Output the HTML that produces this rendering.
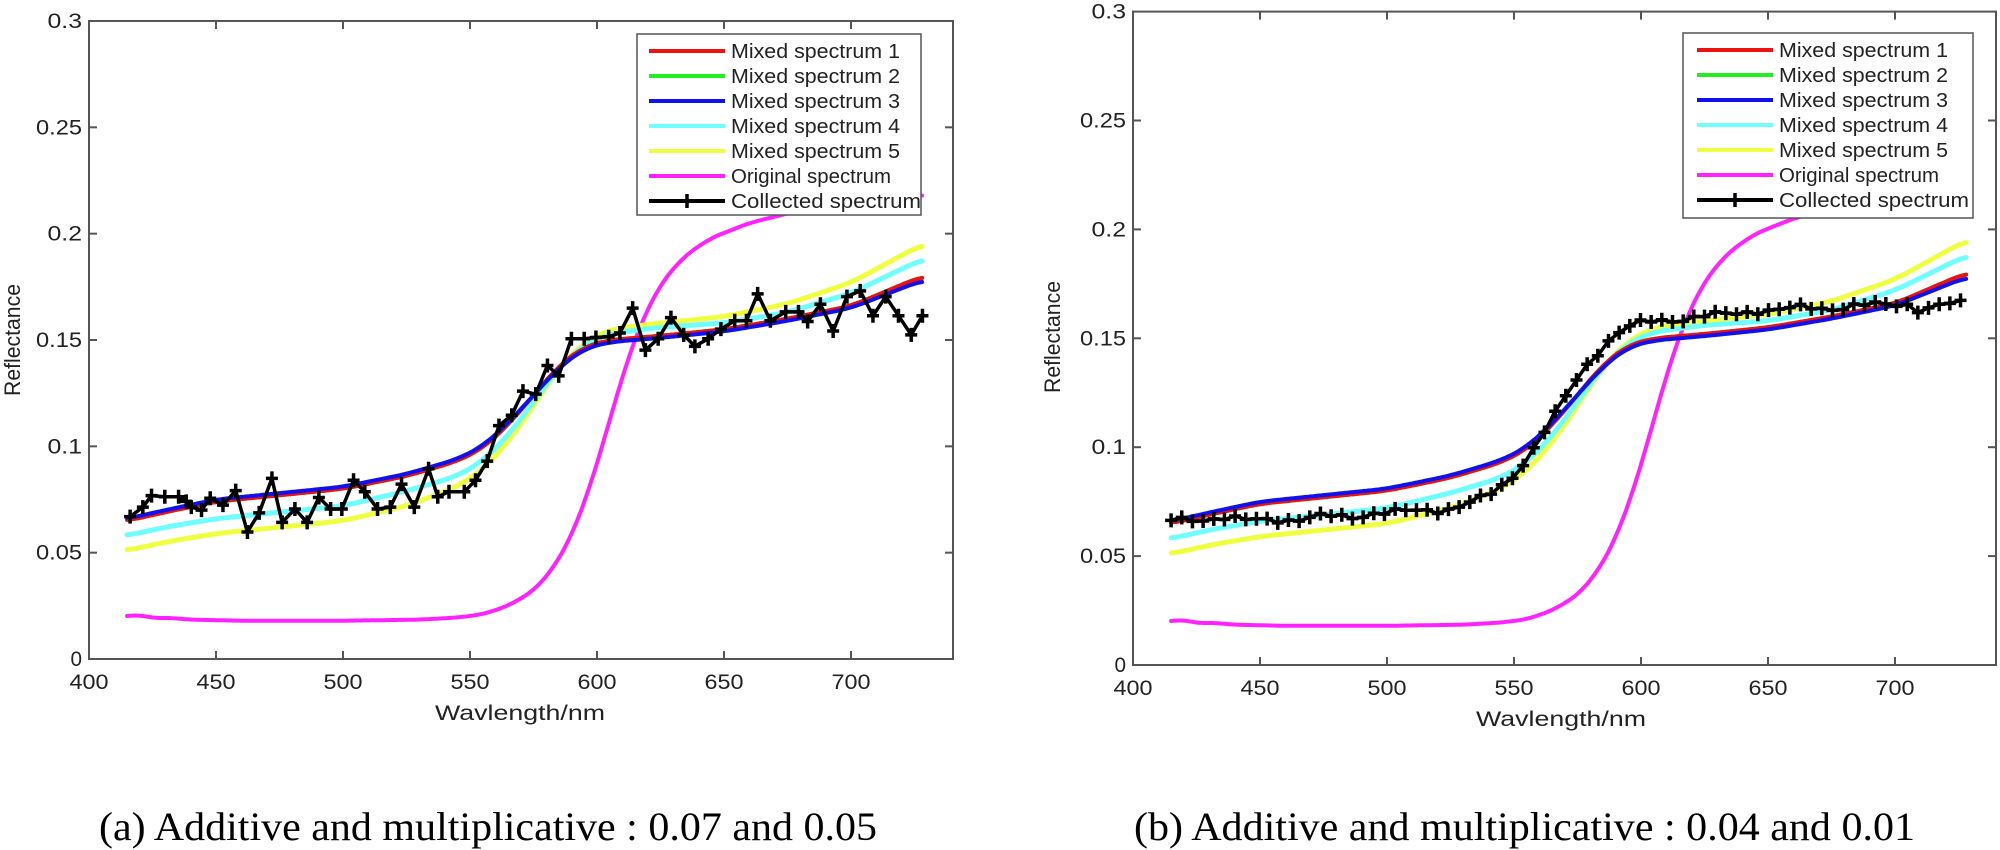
<!DOCTYPE html>
<html><head><meta charset="utf-8"><style>
html,body{margin:0;padding:0;background:#fff;width:2000px;height:850px;overflow:hidden}
svg{display:block}
text{font-family:"Liberation Sans",Arial,sans-serif;fill:#222}
.cap{font-family:"Liberation Serif","Times New Roman",serif;fill:#000}
</style></head><body>
<svg id="s" width="2000" height="850" viewBox="0 0 2000 850" xmlns="http://www.w3.org/2000/svg">
<text class="cap" x="99" y="840" font-size="40" textLength="778" lengthAdjust="spacingAndGlyphs">(a)  Additive and multiplicative : 0.07 and 0.05</text>
<text class="cap" x="1134" y="840" font-size="40" textLength="781" lengthAdjust="spacingAndGlyphs">(b)  Additive and multiplicative : 0.04 and 0.01</text>
</svg>
<script>
var S=document.getElementById('s'),NS='http://www.w3.org/2000/svg';
function el(t,a,txt){var e=document.createElementNS(NS,t);for(var k in a)e.setAttribute(k,a[k]);if(txt!=null)e.textContent=txt;S.appendChild(e);return e;}
function lin(pts,x){if(x<=pts[0][0])return pts[0][1];for(var i=0;i<pts.length-1;i++){if(x<=pts[i+1][0]){var a=pts[i],b=pts[i+1],t=(x-a[0])/(b[0]-a[0]);return a[1]+(b[1]-a[1])*t;}}return pts[pts.length-1][1];}
function smooth(pts,x,h){var s=0,n=0;for(var d=-h;d<=h;d+=0.5){var xx=Math.min(728,Math.max(415,x+d));s+=lin(pts,xx);n++;}return s/n;}
var red=[[415,.065],[430,.069],[450,.074],[475,.077],[500,.080],[525,.086],[545,.093],[555,.099],[565,.110],[575,.124],[585,.138],[595,.147],[605,.150],[625,.152],[650,.155],[675,.160],[700,.166],[728,.180]];
var blue=[[415,.066],[430,.070],[450,.075],[475,.078],[500,.081],[525,.087],[545,.094],[555,.100],[565,.111],[575,.124],[585,.137],[595,.146],[605,.149],[625,.151],[650,.154],[675,.159],[700,.165],[728,.178]];
var cyan=[[415,.058],[430,.062],[450,.066],[475,.069],[500,.072],[525,.079],[545,.086],[555,.093],[565,.105],[575,.121],[585,.137],[595,.148],[605,.153],[625,.156],[650,.158],[675,.163],[700,.172],[728,.188]];
var yel=[[415,.051],[430,.055],[450,.059],[475,.062],[500,.065],[525,.072],[545,.081],[555,.089],[565,.102],[575,.119],[585,.137],[595,.149],[605,.155],[625,.158],[650,.161],[675,.167],[700,.177],[728,.195]];
var mag=[[415,.020],[420,.021],[425,.019],[430,.0195],[440,.0185],[460,.018],[500,.018],[530,.0185],[545,.0195],[555,.021],[565,.025],[575,.032],[583,.043],[590,.058],[597,.080],[604,.108],[611,.137],[618,.160],[626,.178],[635,.190],[645,.198],[660,.205],[680,.211],[700,.215],[728,.218]];
var colR=[[415,.066],[425,.067],[435,.068],[445,.066],[455,.067],[465,.067],[475,.068],[485,.068],[495,.070],[505,.070],[515,.071],[525,.072],[535,.075],[542,.079],[548,.085],[553,.092],[558,.100],[563,.109],[568,.118],[573,.128],[578,.137],[583,.144],[588,.150],[593,.154],[598,.156],[605,.158],[615,.159],[625,.160],[635,.161],[645,.163],[655,.163],[665,.164],[675,.164],[685,.165],[695,.165],[705,.166],[710,.163],[718,.165],[728,.166]];
var rawL=[[255,1350],[280,1325],[297,1295],[323,1298],[350,1298],[365,1310],[375,1325],[395,1333],[412,1302],[437,1320],[462,1282],[485,1390],[508,1340],[533,1250],[553,1365],[578,1330],[602,1365],[625,1300],[648,1330],[670,1330],[693,1255],[715,1285],[740,1330],[765,1325],[787,1265],[812,1325],[840,1225],[858,1298],[880,1285],[910,1285],[932,1255],[955,1205],[978,1112],[1003,1085],[1025,1022],[1050,1030],[1073,955],[1095,982],[1120,885],[1145,885],[1168,882],[1193,880],[1215,870],[1240,805],[1265,915],[1290,885],[1315,830],[1340,875],[1362,905],[1388,885],[1413,860],[1440,838],[1463,838],[1485,768],[1510,838],[1540,815],[1565,815]];
var colLpx=rawL.map(function(p){return [p[0]/1.96,p[1]/2.613];});
[[15,840],[40,795],[65,865],[92,775],[118,760],[143,825],[168,775],[193,825],[218,875],[240,825]].forEach(function(p){colLpx.push([800+p[0]/1.96,p[1]/2.613]);});

function plot(P){
  var X=function(w){return P.x0+(w-400)*P.kx;},Y=function(r){return P.y0-r*P.ky;};
  function curve(pts,col,w,h){var d='';for(var x=415;x<=728.01;x+=1){d+=(d?'L':'M')+X(x).toFixed(1)+','+Y(smooth(pts,x,h)).toFixed(1);}el('path',{d:d,fill:'none',stroke:col,'stroke-width':w,'stroke-linejoin':'round','stroke-linecap':'round'});}
  curve(mag,'#ff22ff',4,4);curve(yel,'#f0ff40',5,6);curve(cyan,'#70ffff',5,6);curve(red,'#00e000',4,6);curve(red,'#ee1111',4,6);curve(blue,'#1111ee',4,6);
  var pts=P.col;var d='';pts.forEach(function(p,i){d+=(i?'L':'M')+p[0].toFixed(1)+','+p[1].toFixed(1);});
  el('path',{d:d,fill:'none',stroke:'#000','stroke-width':3.5,'stroke-linejoin':'round'});
  var m='';pts.forEach(function(p){m+='M'+(p[0]-6)+','+p[1]+'h12M'+p[0]+','+(p[1]-7)+'v14';});
  el('path',{d:m,stroke:'#000','stroke-width':3.5,fill:'none'});
  var xr=P.x1,yt=Y(0.3);
  el('rect',{x:P.x0,y:yt,width:xr-P.x0,height:P.y0-yt,fill:'none',stroke:'#555','stroke-width':2});
  for(var w=400;w<=700;w+=50){var x=X(w);if(w>400){el('line',{x1:x,y1:P.y0,x2:x,y2:P.y0-8,stroke:'#555','stroke-width':2});el('line',{x1:x,y1:yt,x2:x,y2:yt+8,stroke:'#555','stroke-width':2});}
    el('text',{x:x,y:P.y0+30,'font-size':21,'text-anchor':'middle',textLength:39,lengthAdjust:'spacingAndGlyphs'},''+w);}
  var labs=['0','0.05','0.1','0.15','0.2','0.25','0.3'];
  for(var i=0;i<=6;i++){var y=Y(i*0.05);if(i>0&&i<6){el('line',{x1:P.x0,y1:y,x2:P.x0+8,y2:y,stroke:'#555','stroke-width':2});el('line',{x1:xr,y1:y,x2:xr-8,y2:y,stroke:'#555','stroke-width':2});}
    var L=labs[i];el('text',{x:P.x0-7,y:y+7,'font-size':21,'text-anchor':'end',textLength:L.length*11.5,lengthAdjust:'spacingAndGlyphs'},L);}
  el('text',{x:P.xlx,y:P.xly,'font-size':21,'text-anchor':'middle',textLength:170,lengthAdjust:'spacingAndGlyphs'},'Wavlength/nm');
  el('text',{x:0,y:0,'font-size':22,'text-anchor':'middle',transform:'translate('+(P.ylx)+','+P.yly+') rotate(-90)',textLength:112,lengthAdjust:'spacingAndGlyphs'},'Reflectance');
  var g=P.leg;el('rect',{x:g.x,y:g.y,width:g.w,height:g.h,fill:'#fff',stroke:'#555','stroke-width':1.5});
  var items=[['Mixed spectrum 1','#ee1111'],['Mixed spectrum 2','#22ee22'],['Mixed spectrum 3','#1111ee'],['Mixed spectrum 4','#70ffff'],['Mixed spectrum 5','#f0ff40'],['Original spectrum','#ff22ff'],['Collected spectrum','#000']];
  items.forEach(function(it,i){var y=g.r0+i*25;el('line',{x1:g.lx,y1:y,x2:g.lx+76,y2:y,stroke:it[1],'stroke-width':4});
    if(i==6)el('path',{d:'M'+(g.lx+38-6)+','+y+'h12M'+(g.lx+38)+','+(y-7)+'v14',stroke:'#000','stroke-width':3.5});
    var tl=[169,169,169,169,169,160,190][i];
    el('text',{x:g.lx+82,y:y+7,'font-size':20,textLength:tl,lengthAdjust:'spacingAndGlyphs'},it[0]);});
}
plot({x0:89,x1:953,kx:2.54,y0:659,ky:2126.7,col:colLpx,xlx:520,xly:720,ylx:20,yly:340,leg:{x:637,y:34,w:284,h:181,r0:51,lx:649}});
var XR=function(w){return 1133+(w-400)*2.54;},YR=function(r){return 665-r*2178;};
var colRpx=[];for(var w=415;w<=728.1;w+=4.2){var j=((Math.sin(w*1.7)*0.0012)+(Math.cos(w*0.9)*0.0008));colRpx.push([XR(w),YR(lin(colR,w)+j)]);}
plot({x0:1133,x1:1996,kx:2.54,y0:665,ky:2178,col:colRpx,xlx:1561,xly:726,ylx:1060,yly:337,leg:{x:1683,y:33,w:290,h:185,r0:50,lx:1697}});
</script>
</body></html>
